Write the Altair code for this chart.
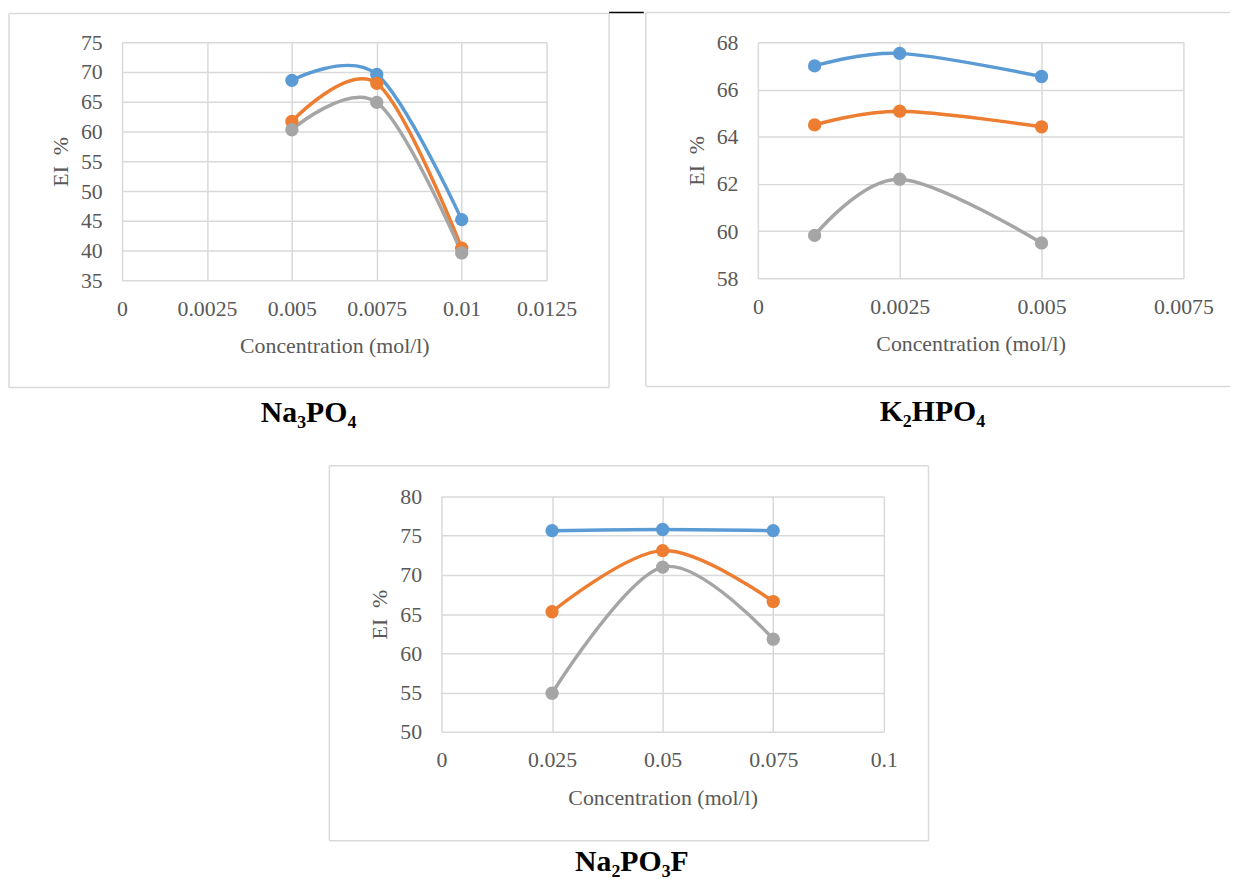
import altair as alt
import pandas as pd

series_names = ["Series 1", "Series 2", "Series 3"]
series_colors = ["#5B9BD5", "#ED7D31", "#A5A5A5"]

x_title = "Concentration (mol/l)"
y_title = "EI\u00a0\u00a0%"

# Panel 1: Na3PO4
na3po4_title = "Na₃PO₄"
na3po4_conc = [0.005, 0.0075, 0.01]
na3po4_s1 = [68.6, 69.6, 45.2]
na3po4_s2 = [61.7, 68.1, 40.4]
na3po4_s3 = [60.3, 64.9, 39.6]
na3po4_xticks = [0, 0.0025, 0.005, 0.0075, 0.01, 0.0125]
na3po4_yticks = [35, 40, 45, 50, 55, 60, 65, 70, 75]

# Panel 2: K2HPO4
k2hpo4_title = "K₂HPO₄"
k2hpo4_conc = [0.001, 0.0025, 0.005]
k2hpo4_s1 = [67.0, 67.53, 66.55]
k2hpo4_s2 = [64.5, 65.08, 64.42]
k2hpo4_s3 = [59.82, 62.2, 59.5]
k2hpo4_xticks = [0, 0.0025, 0.005, 0.0075]
k2hpo4_yticks = [58, 60, 62, 64, 66, 68]

# Panel 3: Na2PO3F
na2po3f_title = "Na₂PO₃F"
na2po3f_conc = [0.025, 0.05, 0.075]
na2po3f_s1 = [75.65, 75.8, 75.65]
na2po3f_s2 = [65.3, 73.1, 66.6]
na2po3f_s3 = [54.9, 71.0, 61.8]
na2po3f_xticks = [0, 0.025, 0.05, 0.075, 0.1]
na2po3f_yticks = [50, 55, 60, 65, 70, 75, 80]

FONT = "Liberation Serif"
GRID = "#D9D9D9"


def rule(one, x1, x2, y1, y2, color=GRID, width=1.5):
    return alt.Chart(one).mark_rule(color=color, strokeWidth=width).encode(
        x=alt.value(x1), x2=alt.value(x2), y=alt.value(y1), y2=alt.value(y2))


def panel(title, conc, s1, s2, s3, xticks, yticks, w, h, box, title_xy,
          top_line=None, open_right=False):
    df = pd.DataFrame({
        "conc": conc * 3,
        "ei": s1 + s2 + s3,
        "series": [n for n in series_names for _ in conc],
    })
    xs = alt.X("conc:Q",
               scale=alt.Scale(domain=[xticks[0], xticks[-1]], nice=False, zero=False),
               axis=alt.Axis(values=xticks, format=".4~g", title=x_title))
    ys = alt.Y("ei:Q",
               scale=alt.Scale(domain=[yticks[0], yticks[-1]], nice=False, zero=False),
               axis=alt.Axis(values=yticks, format="d", title=y_title))
    col = alt.Color("series:N",
                    scale=alt.Scale(domain=series_names, range=series_colors),
                    legend=None)
    base = alt.Chart(df).encode(x=xs, y=ys, color=col)
    lines = base.mark_line(interpolate="cardinal", strokeWidth=3.5)
    pts = base.mark_circle(size=180, opacity=1)
    one = pd.DataFrame({"t": [title]})
    bx1, bx2, by1, by2 = box
    layers = [
        rule(one, bx1, bx2, by1, by1),
        rule(one, bx1, bx2, by2, by2),
        rule(one, bx1, bx1, by1, by2),
    ]
    if not open_right:
        layers.append(rule(one, bx2, bx2, by1, by2))
    if top_line:
        layers.append(rule(one, top_line[0], top_line[1], top_line[2], top_line[2],
                           color="#000000", width=1.5))
    label = alt.Chart(one).mark_text(
        font=FONT, fontSize=30, fontWeight="bold", color="#000000",
        baseline="middle", align="center").encode(
        text="t:N", x=alt.value(title_xy[0]), y=alt.value(title_xy[1]))
    layers += [lines, pts, label]
    return alt.layer(*layers).properties(width=w, height=h)


p1 = panel(na3po4_title, na3po4_conc, na3po4_s1, na3po4_s2, na3po4_s3,
           na3po4_xticks, na3po4_yticks, 428, 240,
           box=(-114, 491, -29, 348), title_xy=(188, 374),
           top_line=(491, 526, -30))
p2 = panel(k2hpo4_title, k2hpo4_conc, k2hpo4_s1, k2hpo4_s2, k2hpo4_s3,
           k2hpo4_xticks, k2hpo4_yticks, 429, 238,
           box=(-113, 476, -30, 347), title_xy=(176, 373), open_right=True)
p3 = panel(na2po3f_title, na2po3f_conc, na2po3f_s1, na2po3f_s2, na2po3f_s3,
           na2po3f_xticks, na2po3f_yticks, 446, 237,
           box=(-113, 491, -31, 347), title_xy=(192, 368))

# empty spacer that pushes the third panel to the right
spacer = alt.Chart(pd.DataFrame({"t": [""]})).mark_rect(fill="#FFFFFF", strokeWidth=0).encode(
    x=alt.value(0), x2=alt.value(200), y=alt.value(0), y2=alt.value(1)
).properties(width=200, height=1)

row1 = alt.hconcat(p1, p2, spacing=0)
row2 = alt.hconcat(spacer, p3, spacing=8)
chart = alt.vconcat(row1, row2, spacing=37).properties(
    padding={"left": 0, "top": 0, "right": 0, "bottom": 0}
).configure_axis(
    labelFont=FONT, labelFontSize=22, labelColor="#595959",
    titleFont=FONT, titleFontSize=22, titleColor="#595959", titleFontWeight="normal",
    gridColor=GRID, gridWidth=1.5, gridOpacity=1,
    domain=False, ticks=False, labelFlush=False,
).configure_axisX(
    labelPadding=18, titlePadding=17,
).configure_axisY(
    labelPadding=20, titlePadding=8,
).configure_view(strokeOpacity=0)

chart.save("out.html", embed_options={"renderer": "svg", "actions": False})
